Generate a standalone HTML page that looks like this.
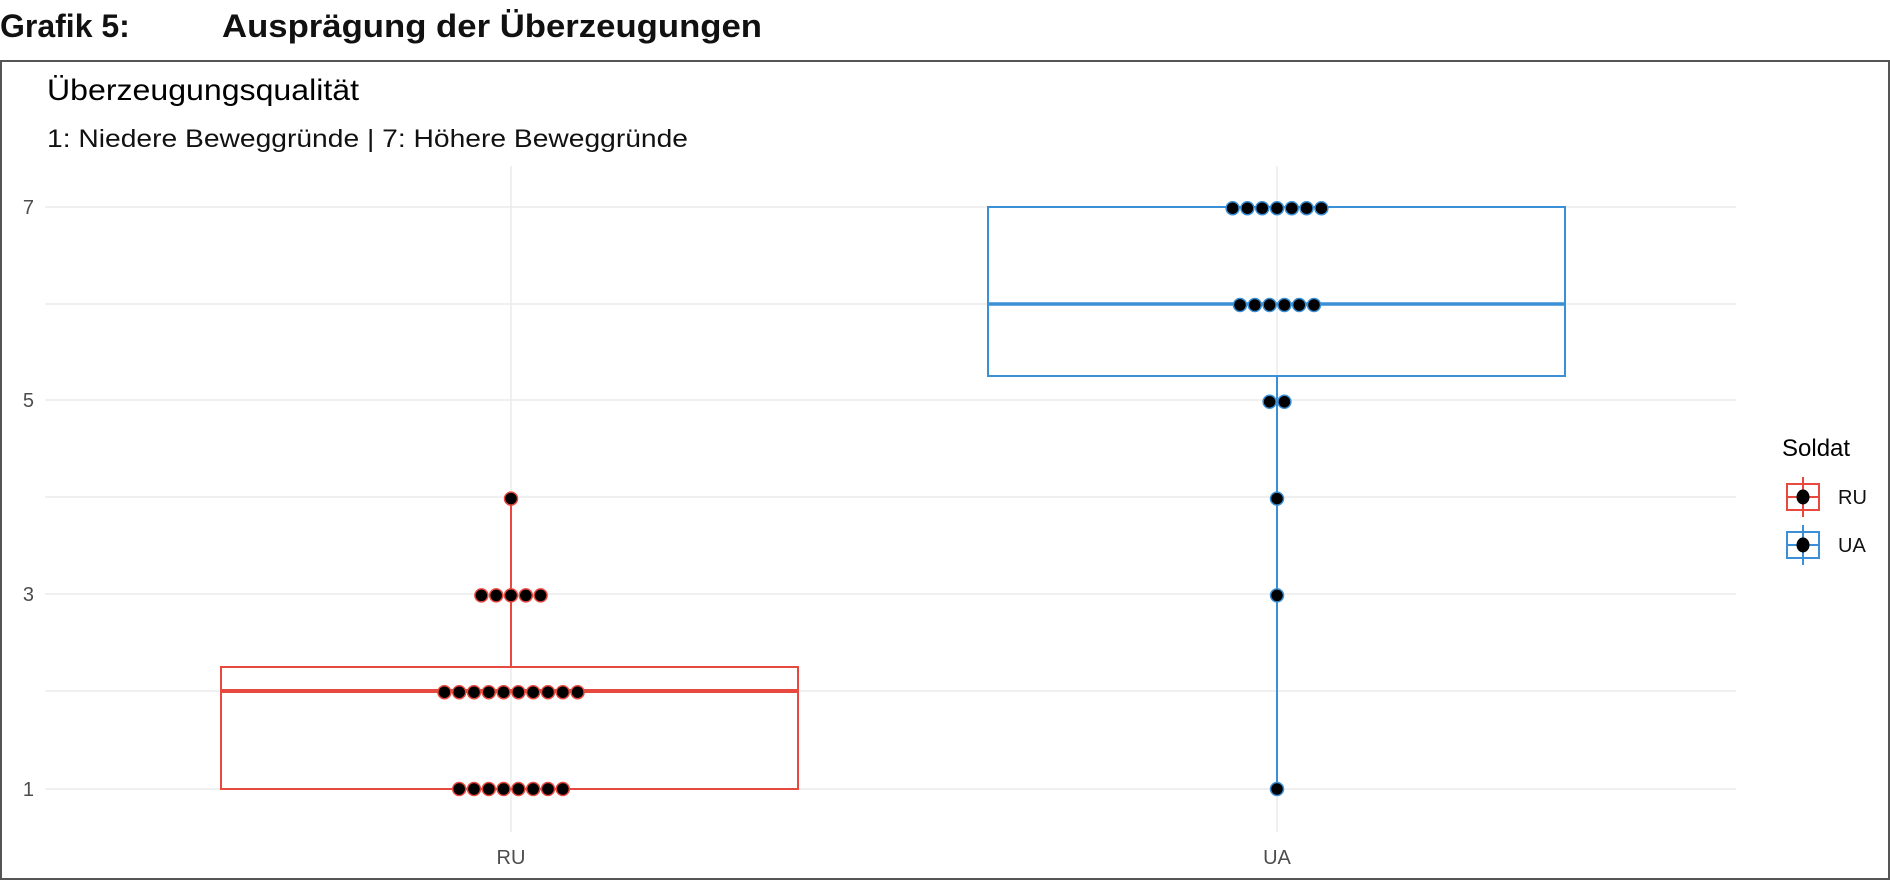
<!DOCTYPE html><html><head><meta charset="utf-8"><style>body{margin:0;background:#fff}svg{display:block}</style></head><body>
<svg width="1890" height="880" xmlns="http://www.w3.org/2000/svg" font-family="Liberation Sans, sans-serif">
<text x="0" y="37" font-size="32" font-weight="bold" fill="#111">Grafik 5:</text>
<text x="222" y="37" font-size="32" font-weight="bold" fill="#111" textLength="540" lengthAdjust="spacingAndGlyphs">Ausprägung der Überzeugungen</text>
<rect x="1" y="61" width="1888" height="818" fill="#fff" stroke="#555" stroke-width="2"/>
<text x="47" y="100" font-size="30" fill="#000" textLength="312" lengthAdjust="spacingAndGlyphs">Überzeugungsqualität</text>
<text x="47" y="147" font-size="25" fill="#111" textLength="641" lengthAdjust="spacingAndGlyphs">1: Niedere Beweggründe | 7: Höhere Beweggründe</text>
<g stroke="#ebebeb" stroke-width="1.5">
<line x1="45" x2="1736" y1="207" y2="207"/><line x1="45" x2="1736" y1="304" y2="304"/><line x1="45" x2="1736" y1="400" y2="400"/><line x1="45" x2="1736" y1="497" y2="497"/><line x1="45" x2="1736" y1="594" y2="594"/><line x1="45" x2="1736" y1="691" y2="691"/><line x1="45" x2="1736" y1="789" y2="789"/>
<line x1="511" x2="511" y1="166" y2="832"/><line x1="1277" x2="1277" y1="166" y2="832"/>
</g>
<g font-size="20" fill="#4d4d4d" text-anchor="end">
<text x="34" y="214">7</text><text x="34" y="407">5</text><text x="34" y="601">3</text><text x="34" y="796">1</text>
</g>
<g font-size="20" fill="#4d4d4d" text-anchor="middle"><text x="511" y="864">RU</text><text x="1277" y="864">UA</text></g>
<g stroke="#e8493e" stroke-width="2" fill="none">
<line x1="511" x2="511" y1="497" y2="667"/>
<rect x="221" y="667" width="577" height="122"/>
<line x1="221" x2="798" y1="691" y2="691" stroke-width="4"/>
</g>
<g stroke="#3a8fd6" stroke-width="2" fill="none">
<line x1="1277" x2="1277" y1="376" y2="789"/>
<rect x="988" y="207" width="577" height="169"/>
<line x1="988" x2="1565" y1="304" y2="304" stroke-width="3.5"/>
</g>
<g id="dots" fill="#000" stroke-width="1.5"></g>
<text x="1782" y="456" font-size="24" fill="#000">Soldat</text>
<g stroke="#e8493e" stroke-width="2" fill="none"><rect x="1787" y="484" width="32" height="26"/><line x1="1803" x2="1803" y1="477" y2="517"/><line x1="1787" x2="1819" y1="497" y2="497"/></g>
<ellipse cx="1803" cy="497" rx="6.5" ry="7.5" fill="#000"/>
<g stroke="#3a8fd6" stroke-width="2" fill="none"><rect x="1787" y="532" width="32" height="26"/><line x1="1803" x2="1803" y1="525" y2="565"/><line x1="1787" x2="1819" y1="545" y2="545"/></g>
<ellipse cx="1803" cy="545" rx="6.5" ry="7.5" fill="#000"/>
<text x="1838" y="504" font-size="20" fill="#111">RU</text>
<text x="1838" y="552" font-size="20" fill="#111">UA</text>
</svg>
<script>
var g=document.getElementById('dots');
function y(v){return 789-96.8*(v-1);}
function row(cx,v,n,col){var s=14.8;for(var i=0;i<n;i++){var e=document.createElementNS('http://www.w3.org/2000/svg','ellipse');e.setAttribute('cx',cx+(i-(n-1)/2)*s);e.setAttribute('cy',y(v));e.setAttribute('rx',6.5);e.setAttribute('ry',6.5);e.setAttribute('stroke',col);g.appendChild(e);}}
var r='#e8493e',b='#3a8fd6';
row(511,1,8,r);row(511,2,10,r);row(511,3,5,r);row(511,4,1,r);
row(1277,7,7,b);row(1277,6,6,b);row(1277,5,2,b);row(1277,4,1,b);row(1277,3,1,b);row(1277,1,1,b);
</script>
</body></html>
